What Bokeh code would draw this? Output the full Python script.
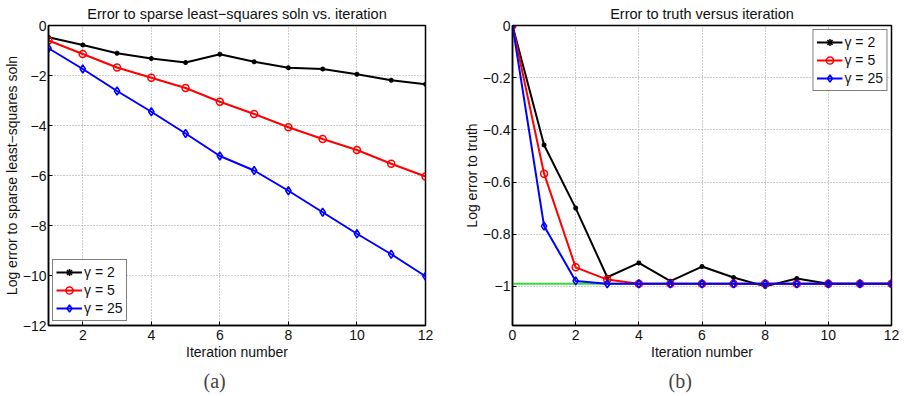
from bokeh.plotting import figure
from bokeh.layouts import row
from bokeh.models import FixedTicker, Legend, LegendItem, Title, Range1d
from bokeh.embed import file_html
from bokeh.resources import INLINE

# ---------------- data ----------------
iters_a = [1, 2, 3, 4, 5, 6, 7, 8, 9, 10, 11, 12]
a_gamma2 = [-0.47, -0.78, -1.11, -1.32, -1.48, -1.15, -1.45, -1.69, -1.74, -1.95, -2.19, -2.35]
a_gamma5 = [-0.60, -1.14, -1.68, -2.09, -2.50, -3.05, -3.54, -4.07, -4.54, -4.98, -5.53, -6.04]
a_gamma25 = [-0.91, -1.74, -2.62, -3.45, -4.32, -5.22, -5.80, -6.61, -7.47, -8.33, -9.15, -10.03]

iters_b = [0, 1, 2, 3, 4, 5, 6, 7, 8, 9, 10, 11, 12]
b_gamma2 = [0.0, -0.458, -0.70, -0.965, -0.91, -0.98, -0.924, -0.966, -1.0, -0.97, -0.99, -0.99, -0.99]
b_gamma5 = [0.0, -0.568, -0.927, -0.974, -0.99, -0.99, -0.99, -0.99, -0.99, -0.99, -0.99, -0.99, -0.99]
b_gamma25 = [0.0, -0.769, -0.979, -0.99, -0.99, -0.99, -0.99, -0.99, -0.99, -0.99, -0.99, -0.99, -0.99]
truth_x = [0, 12]
truth_y = [-0.99, -0.99]

series_labels = ["\u03b3 = 2", "\u03b3 = 5", "\u03b3 = 25"]

a_xticks = [2, 4, 6, 8, 10, 12]
a_yticks = [0, -2, -4, -6, -8, -10, -12]
a_ytick_labels = ["0", "\u22122", "\u22124", "\u22126", "\u22128", "\u221210", "\u221212"]
b_xticks = [0, 2, 4, 6, 8, 10, 12]
b_yticks = [0, -0.2, -0.4, -0.6, -0.8, -1]
b_ytick_labels = ["0", "\u22120.2", "\u22120.4", "\u22120.6", "\u22120.8", "\u22121"]

title_a = "Error to sparse least\u2212squares soln vs. iteration"
title_b = "Error to truth versus iteration"
ylabel_a = "Log error to sparse least\u2212squares soln"
ylabel_b = "Log error to truth"
xlabel = "Iteration number"

FONT = "Arial"


def style(p, xticks, yticks, ylabels):
    p.title.text_font = FONT
    p.title.text_font_size = "14.5px"
    p.title.text_font_style = "normal"
    p.title.text_color = "#111111"
    p.title.align = "center"
    p.title.offset = 0
    p.title.standoff = 7
    p.outline_line_color = "black"
    p.outline_line_width = 1.5
    for ax in (p.xaxis[0], p.yaxis[0]):
        ax.axis_line_color = "black"
        ax.axis_line_width = 1.5
        ax.major_tick_in = 4
        ax.major_tick_out = 0
        ax.minor_tick_in = 0
        ax.minor_tick_out = 0
        ax.major_label_text_font = FONT
        ax.major_label_text_font_size = "14px"
        ax.major_label_text_color = "#111111"
        ax.axis_label_text_font = FONT
        ax.axis_label_text_font_size = "14px"
        ax.axis_label_text_font_style = "normal"
        ax.axis_label_text_color = "#111111"
        ax.major_label_standoff = 2
        ax.axis_label_standoff = 0
    p.xaxis[0].major_label_standoff = 4
    p.xaxis[0].axis_label_standoff = 1
    p.xaxis[0].ticker = FixedTicker(ticks=xticks)
    p.yaxis[0].ticker = FixedTicker(ticks=yticks)
    p.yaxis[0].major_label_overrides = {t: l for t, l in zip(yticks, ylabels)}
    p.xgrid.ticker = FixedTicker(ticks=xticks)
    p.ygrid.ticker = FixedTicker(ticks=yticks)
    for g in (p.xgrid[0], p.ygrid[0]):
        g.grid_line_color = "#999999"
        g.grid_line_dash = "1 2"
        g.grid_line_width = 1
    p.background_fill_color = "white"
    p.border_fill_color = "white"


def add_series(p, x, ys, legend_loc):
    items = []
    colors = ["black", "red", "blue"]
    markers = ["asterisk", "circle", "diamond"]
    sizes = [5, 7, 8]
    for y, c, m, s, lab in zip(ys, colors, markers, sizes, series_labels):
        r1 = p.line(x, y, line_color=c, line_width=2)
        r2 = p.scatter(x, y, marker=m, size=s, line_color=c, fill_color=None, line_width=1.5)
        items.append(LegendItem(label=lab, renderers=[r1, r2]))
    leg = Legend(items=items, location=legend_loc)
    leg.label_text_font = FONT
    leg.label_text_font_size = "14px"
    leg.label_text_color = "#111111"
    leg.border_line_color = "black"
    leg.border_line_width = 1.5
    leg.background_fill_alpha = 1
    leg.padding = 3
    leg.spacing = 0
    leg.margin = 4
    leg.glyph_width = 26
    leg.glyph_height = 18
    leg.label_standoff = 2
    leg.label_height = 18
    p.add_layout(leg, "center")


# ---------------- panel (a) ----------------
pa = figure(width=460, height=396, output_backend="svg", toolbar_location=None,
            x_range=Range1d(1, 12), y_range=Range1d(-12, 0),
            title=title_a, x_axis_label=xlabel, y_axis_label=ylabel_a,
            min_border_left=42, min_border_right=35, min_border_top=0, min_border_bottom=70)
style(pa, a_xticks, a_yticks, a_ytick_labels)
add_series(pa, iters_a, [a_gamma2, a_gamma5, a_gamma25], "bottom_left")
cap_a = Title(text="(a)", align="left", offset=155, text_font="Liberation Serif",
              text_font_size="20px", text_font_style="normal", standoff=10)
pa.add_layout(cap_a, "below")

# ---------------- panel (b) ----------------
pb = figure(width=444, height=396, output_backend="svg", toolbar_location=None,
            x_range=Range1d(0, 12), y_range=Range1d(-1.15, 0),
            title=title_b, x_axis_label=xlabel, y_axis_label=ylabel_b,
            min_border_left=51, min_border_right=13, min_border_top=0, min_border_bottom=70)
style(pb, b_xticks, b_yticks, b_ytick_labels)
pb.line(truth_x, truth_y, line_color="#33dd33", line_width=2)
add_series(pb, iters_b, [b_gamma2, b_gamma5, b_gamma25], "top_right")
cap_b = Title(text="(b)", align="left", offset=156, text_font="Liberation Serif",
              text_font_size="20px", text_font_style="normal", standoff=10)
pb.add_layout(cap_b, "below")

layout = row(pa, pb, spacing=0)
open("out.html", "w").write(file_html(layout, INLINE))
